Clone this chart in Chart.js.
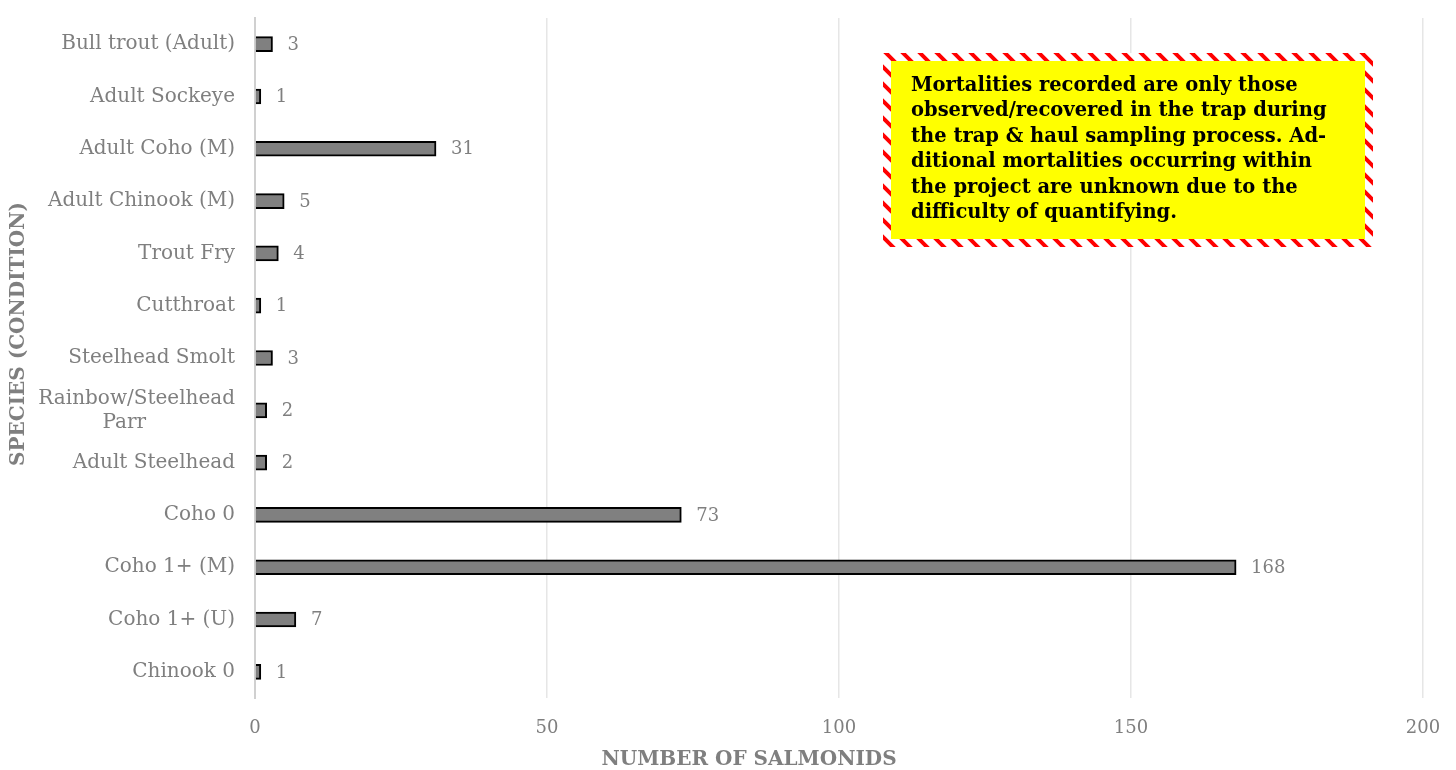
<!DOCTYPE html>
<html>
<head>
<meta charset="utf-8">
<script src="https://cdn.jsdelivr.net/npm/chart.js@4"></script>
<style>
  html, body { margin: 0; padding: 0; background: #fff; }
  #wrap { width: 1456px; height: 770px; }
</style>
</head>
<body>
<div id="wrap"><canvas id="mortchart"></canvas></div>
<script>
const species = [
  'Bull trout (Adult)',
  'Adult Sockeye',
  'Adult Coho (M)',
  'Adult Chinook (M)',
  'Trout Fry',
  'Cutthroat',
  'Steelhead Smolt',
  ['Rainbow/Steelhead', 'Parr\u00a0\u00a0\u00a0\u00a0\u00a0\u00a0\u00a0\u00a0\u00a0\u00a0\u00a0\u00a0\u00a0\u00a0'],
  'Adult Steelhead',
  'Coho 0',
  'Coho 1+ (M)',
  'Coho 1+ (U)',
  'Chinook 0'
];
const mortalities = [3, 1, 31, 5, 4, 1, 3, 2, 2, 73, 168, 7, 1];

const noteLines = [
  'Mortalities recorded are only those',
  'observed/recovered in the trap during',
  'the trap & haul sampling process. Ad-',
  'ditional mortalities occurring within',
  'the project are unknown due to the',
  'difficulty of quantifying.'
];

const grey = '#7f7f7f';
const serif = '"DejaVu Serif", "Liberation Serif", serif';

// value labels next to each bar
const barValues = {
  id: 'barValues',
  afterDatasetsDraw(chart) {
    const ctx = chart.ctx;
    const meta = chart.getDatasetMeta(0);
    ctx.save();
    ctx.font = '18px ' + serif;
    ctx.fillStyle = grey;
    ctx.textAlign = 'left';
    ctx.textBaseline = 'middle';
    meta.data.forEach((bar, i) => {
      ctx.fillText(String(mortalities[i]), bar.x + 15, bar.y + 1);
    });
    ctx.restore();
  }
};

// hazard-striped note box + axis titles
const noteBox = {
  id: 'noteBox',
  afterDraw(chart) {
    const ctx = chart.ctx;
    const x = 883, y = 53, w = 490, h = 194, b = 8;
    const n = 17;
    const pc = document.createElement('canvas');
    pc.width = n; pc.height = n;
    const p = pc.getContext('2d');
    p.fillStyle = '#fff';
    p.fillRect(0, 0, n, n);
    p.strokeStyle = '#ff0000';
    p.lineWidth = 4;
    p.beginPath();
    p.moveTo(-n, -n); p.lineTo(2 * n, 2 * n);
    p.moveTo(-2 * n, -n); p.lineTo(n, 2 * n);
    p.moveTo(0, -n); p.lineTo(3 * n, 2 * n);
    p.stroke();
    ctx.save();
    ctx.fillStyle = ctx.createPattern(pc, 'repeat');
    ctx.fillRect(x, y, w, h);
    ctx.fillStyle = '#ffff00';
    ctx.fillRect(x + b, y + b, w - 2 * b, h - 2 * b);
    ctx.fillStyle = '#000';
    ctx.font = 'bold 19.5px ' + serif;
    ctx.textAlign = 'left';
    ctx.textBaseline = 'middle';
    noteLines.forEach((t, i) => ctx.fillText(t, 911, 86 + i * 25.4));

    ctx.fillStyle = grey;
    ctx.font = 'bold 20px ' + serif;
    ctx.textAlign = 'center';
    ctx.fillText('NUMBER OF SALMONIDS', 749, 760);

    ctx.translate(19, 334);
    ctx.rotate(-Math.PI / 2);
    ctx.fillText('SPECIES (CONDITION)', 0, 0);
    ctx.restore();
  }
};

const mortData = {
  labels: species,
  datasets: [{
    data: mortalities,
    backgroundColor: '#808080',
    borderColor: '#000000',
    borderWidth: 2,
    borderSkipped: 'start',
    barThickness: 15
  }]
};

const mortConfig = {
  type: 'bar',
  data: mortData,
  options: {
    indexAxis: 'y',
    responsive: true,
    maintainAspectRatio: false,
    animation: false,
    layout: { padding: { top: 18, right: 33, bottom: 0, left: 0 } },
    plugins: {
      legend: { display: false },
      tooltip: { enabled: false }
    },
    scales: {
      x: {
        min: 0,
        max: 200,
        ticks: { stepSize: 50, color: grey, font: { family: serif, size: 18 }, padding: 20 },
        grid: { color: '#e6e6e6', lineWidth: 1.5, drawTicks: false },
        border: { display: false },
        afterFit(scale) { scale.height = 72; scale.paddingLeft = 0; scale.paddingRight = 0; }
      },
      y: {
        ticks: { color: grey, font: { family: serif, size: 20 }, padding: 20, autoSkip: false },
        grid: { display: false, drawTicks: false },
        border: { display: true, color: '#d0d0d0', width: 2 },
        afterFit(scale) { scale.width = 255; scale.paddingTop = 0; scale.paddingBottom = 0; }
      }
    }
  },
  plugins: [barValues, noteBox]
};

const mortChart = new Chart(document.getElementById('mortchart'), mortConfig);
</script>
</body>
</html>
